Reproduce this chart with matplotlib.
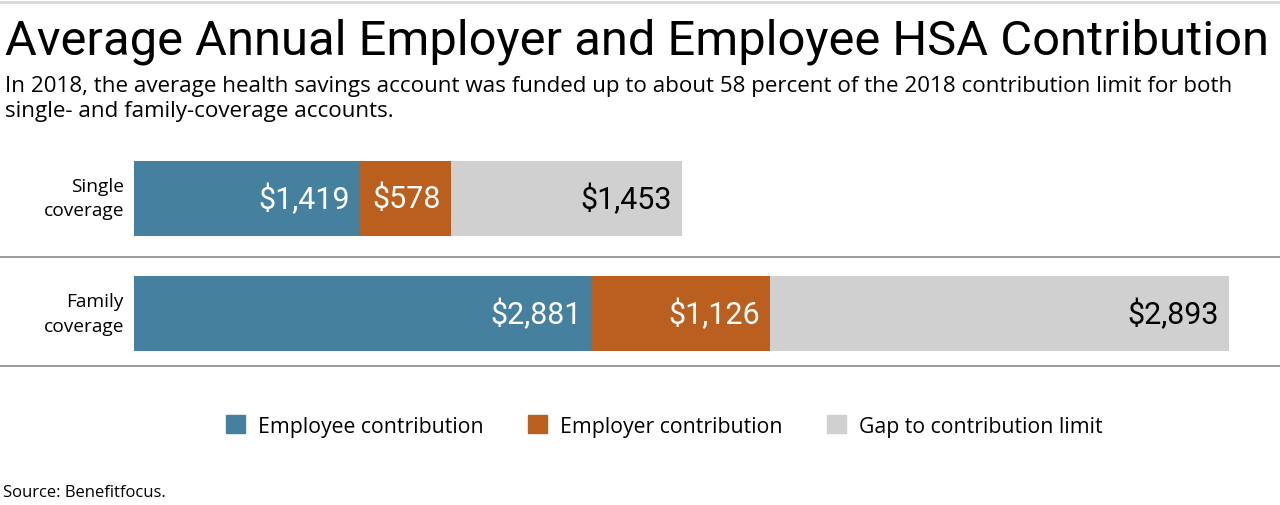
import matplotlib.pyplot as plt
from matplotlib.lines import Line2D
from matplotlib.patches import Patch

# data
categories = ['Single\ncoverage', 'Family\ncoverage']
employee = [1419, 2881]
employer = [578, 1126]
gap = [1453, 2893]
series_names = ['Employee contribution', 'Employer contribution', 'Gap to contribution limit']
colors = ['#46809f', '#ba5f1e', '#d0d0d0']
label_colors = ['white', 'white', 'black']

plt.rcParams['font.family'] = ['Open Sans', 'DejaVu Sans']

W, H = 1280, 506
fig = plt.figure(figsize=(12.8, 5.06), dpi=100)

# axes so that 0..6900 spans px 134..1229
ax = fig.add_axes([134 / W, 1 - 380 / H, 1095 / W, (380 - 140) / H])
ax.set_xlim(0, 6900)
ypos = [199, 314.5]
ax.set_ylim(380, 140)
for s in ax.spines.values():
    s.set_visible(False)
ax.set_xticks([])
ax.set_yticks([])

bar_h = 75
left = [0, 0]
for vals, col, lc in zip([employee, employer, gap], colors, label_colors):
    ax.barh(ypos, vals, left=left, height=bar_h, color=col, edgecolor='none')
    for y, v, l in zip(ypos, vals, left):
        ax.annotate(f'${v:,}', xy=(l + v, y), xytext=(-7, 0), textcoords='offset points',
                    ha='right', va='center', color=lc, fontsize=22, family=['Roboto', 'DejaVu Sans'])
    left = [a + b for a, b in zip(left, vals)]

for y, c in zip(ypos, categories):
    fig.text(124 / W, 1 - y / H, c, ha='right', va='center', fontsize=13.8, linespacing=1.45)

# thin top rule and separators
fig.add_artist(Line2D([0, 1], [1 - 3 / H] * 2, color='#d8d8d8', lw=2))
for yl in [258, 367]:
    fig.add_artist(Line2D([0, 1], [1 - yl / H] * 2, color='#8a8a8a', lw=1.2))

# title, fitted to the reference width
t = fig.text(5 / W, 1 - 42 / H, 'Average Annual Employer and Employee HSA Contribution',
             ha='left', va='center', fontsize=40, family=['Roboto', 'DejaVu Sans'])
sub = fig.text(5 / W, 1 - 99 / H,
               'In 2018, the average health savings account was funded up to about 58 percent of the 2018 contribution limit for both\nsingle- and family-coverage accounts.',
               ha='left', va='center', fontsize=15, linespacing=1.2)
fig.canvas.draw()
t.set_fontsize(40 * 1263 / t.get_window_extent().width)
sub_w = sub.get_window_extent().width
# first line is the long one; scale so it ends near px 1233
sub.set_fontsize(15 * 1228 / sub_w)

handles = [Patch(color=c) for c in colors]
fig.legend(handles, series_names, loc='center', bbox_to_anchor=(664 / W, 1 - 427 / H),
           ncol=3, frameon=False, fontsize=15.3, handlelength=0.9, handleheight=0.9,
           handletextpad=0.6, columnspacing=2.1)

fig.text(3 / W, 1 - 493 / H, 'Source: Benefitfocus.', ha='left', va='center', fontsize=12)

fig.savefig('out.png', dpi=100)
